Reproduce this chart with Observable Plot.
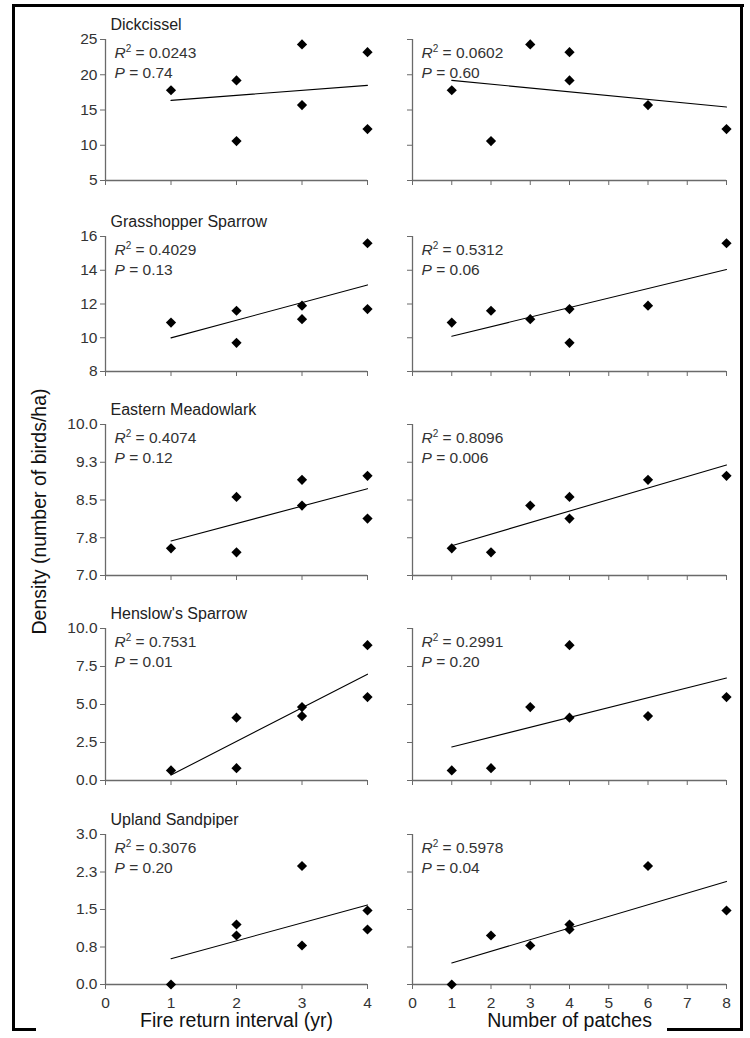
<!DOCTYPE html>
<html>
<head>
<meta charset="utf-8">
<script src="https://cdn.jsdelivr.net/npm/d3@7"></script>
<script src="https://cdn.jsdelivr.net/npm/@observablehq/plot@0.6"></script>
<style>
  body { margin: 0; background: #fff; }
  #fig { position: relative; width: 750px; height: 1038px; background: #fff; overflow: hidden;
         font-family: "Liberation Sans", Arial, sans-serif; }
  #fig svg { position: absolute; }
  .bd { position: absolute; background: #000; z-index: 5; }
</style>
</head>
<body>
<div id="fig"></div>
<script>
// ---------------- data ----------------
const sites = ["A", "B", "C", "D", "E", "F", "G"];
const fireInterval = [1, 2, 3, 4, 2, 3, 4];
const patchCount   = [1, 2, 3, 4, 4, 6, 8];

const dickcissel         = [17.8, 10.6, 24.3, 23.2, 19.2, 15.7, 12.3];
const grasshopperSparrow = [10.9, 11.6, 11.1, 11.7, 9.7, 11.9, 15.6];
const easternMeadowlark  = [7.54, 7.46, 8.39, 8.13, 8.56, 8.90, 8.98];
const henslowsSparrow    = [0.66, 0.81, 4.83, 8.90, 4.13, 4.24, 5.49];
const uplandSandpiper    = [0.00, 0.98, 0.78, 1.10, 1.20, 2.37, 1.48];

const speciesNames = ["Dickcissel", "Grasshopper Sparrow", "Eastern Meadowlark", "Henslow's Sparrow", "Upland Sandpiper"];
const speciesValues = [dickcissel, grasshopperSparrow, easternMeadowlark, henslowsSparrow, uplandSandpiper];

const r2Fire  = ["0.0243", "0.4029", "0.4074", "0.7531", "0.3076"];
const pFire   = ["0.74", "0.13", "0.12", "0.01", "0.20"];
const r2Patch = ["0.0602", "0.5312", "0.8096", "0.2991", "0.5978"];
const pPatch  = ["0.60", "0.06", "0.006", "0.20", "0.04"];

const yTicks = [
  [5, 10, 15, 20, 25],
  [8, 10, 12, 14, 16],
  [7, 7.75, 8.5, 9.25, 10],
  [0, 2.5, 5, 7.5, 10],
  [0, 0.75, 1.5, 2.25, 3]
];
const yTickLabels = [
  ["5", "10", "15", "20", "25"],
  ["8", "10", "12", "14", "16"],
  ["7.0", "7.8", "8.5", "9.3", "10.0"],
  ["0.0", "2.5", "5.0", "7.5", "10.0"],
  ["0.0", "0.8", "1.5", "2.3", "3.0"]
];
const fireTicks  = [0, 1, 2, 3, 4];
const patchTicks = [0, 1, 2, 3, 4, 5, 6, 7, 8];

const xTitles = ["Fire return interval (yr)", "Number of patches"];
const yTitle = "Density (number of birds/ha)";

// ---------------- layout ----------------
const rowTop    = [39, 236, 424, 628, 834];
const rowBottom = [180, 371, 575, 780, 984];
const colLeft   = [105, 412];
const colRight  = [367, 726];
const svgLeft   = [18, 385];
const svgRight  = [380, 742];
const FIG_H = 1038;

const axisColor = "#6a6a6a";
const labelColor = "#333";
const font = "Liberation Sans, Arial, Helvetica, sans-serif";

const fig = document.getElementById("fig");

function panel(row, col) {
  const vals = speciesValues[row];
  const xs = col === 0 ? fireInterval : patchCount;
  const data = sites.map((s, i) => ({site: s, x: xs[i], y: vals[i]}));
  const ticks = yTicks[row];
  const ymin = ticks[0], ymax = ticks[ticks.length - 1];
  const xt = col === 0 ? fireTicks : patchTicks;
  const xmax = xt[xt.length - 1];
  const last = row === 4;
  const mt = 38;
  const mb = last ? FIG_H - rowBottom[row] : 14;
  const ml = colLeft[col] - svgLeft[col];
  const mr = svgRight[col] - colRight[col];
  const width = svgRight[col] - svgLeft[col];
  const height = rowBottom[row] - rowTop[row] + mt + mb;
  const labelMap = new Map(ticks.map((t, i) => [t, yTickLabels[row][i]]));
  const r2 = col === 0 ? r2Fire[row] : r2Patch[row];
  const p = col === 0 ? pFire[row] : pPatch[row];

  const marks = [
    Plot.ruleX([0], {y1: ymin, y2: ymax, stroke: axisColor, strokeWidth: 1.3}),
    Plot.ruleY([ymin], {x1: 0, x2: xmax, stroke: axisColor, strokeWidth: 1.3}),
    Plot.axisY(ticks, {
      anchor: "left", tickSize: 5, tickPadding: 3, label: null,
      tickFormat: col === 0 ? (d) => labelMap.get(d) : () => "",
      fontSize: 15.5, stroke: axisColor, fill: labelColor
    }),
    Plot.axisX(xt, {
      anchor: "bottom", tickSize: 5, tickPadding: 7, label: null,
      tickFormat: last ? (d) => String(d) : () => "",
      fontSize: 15.5, stroke: axisColor, fill: labelColor
    }),
    Plot.linearRegressionY(data, {x: "x", y: "y", stroke: "#000", strokeWidth: 1.1, ci: 0}),
    Plot.dot(data, {x: "x", y: "y", symbol: "diamond2", r: 4.6, fill: "#000", stroke: "none"}),
    Plot.text(["R2 = " + r2], {frameAnchor: "top-left", dx: 9, dy: 14, textAnchor: "start", lineAnchor: "middle", fontSize: 15.5, fill: labelColor}),
    Plot.text(["P = " + p], {frameAnchor: "top-left", dx: 9, dy: 34, textAnchor: "start", lineAnchor: "middle", fontSize: 15.5, fill: labelColor})
  ];
  if (col === 0) {
    marks.push(Plot.text([speciesNames[row]], {frameAnchor: "top-left", dx: 5, dy: -15, textAnchor: "start", lineAnchor: "middle", fontSize: 16, fill: "#222"}));
  }
  if (col === 0 && row === 2) {
    const midY = (rowTop[row] + rowBottom[row]) / 2;
    marks.push(Plot.text([yTitle], {frameAnchor: "left", rotate: -90, dx: 39 - colLeft[0], dy: 511 - midY, textAnchor: "middle", lineAnchor: "middle", fontSize: 19.5, fill: "#111"}));
  }
  if (last) {
    marks.push(Plot.text([xTitles[col]], {frameAnchor: "bottom", dy: 1020 - rowBottom[row], textAnchor: "middle", lineAnchor: "middle", fontSize: 19.5, fill: "#111"}));
  }

  const svg = Plot.plot({
    width, height,
    marginTop: mt, marginBottom: mb, marginLeft: ml, marginRight: mr,
    x: {domain: [0, xmax], label: null},
    y: {domain: [ymin, ymax], label: null},
    style: {fontFamily: font, background: "transparent", overflow: "visible"},
    marks
  });

  // italic R with superscript 2, italic P
  d3.select(svg).selectAll("text").each(function () {
    const t = this.textContent;
    const sel = d3.select(this);
    if (t.startsWith("R2 = ")) {
      sel.text(null);
      sel.append("tspan").attr("font-style", "italic").text("R");
      sel.append("tspan").attr("font-size", "10px").attr("dy", "-6").text("2");
      sel.append("tspan").attr("dy", "6").text(" = " + t.slice(5));
    } else if (t.startsWith("P = ")) {
      sel.text(null);
      sel.append("tspan").attr("font-style", "italic").text("P");
      sel.append("tspan").text(" = " + t.slice(4));
    }
  });

  svg.style.position = "absolute";
  svg.style.left = svgLeft[col] + "px";
  svg.style.top = (rowTop[row] - mt) + "px";
  fig.appendChild(svg);
}

for (let r = 0; r < 5; r++) for (let c = 0; c < 2; c++) panel(r, c);

// frame lines of the figure
const borders = [
  {l: 12, t: 4, w: 732, h: 3},
  {l: 12, t: 4, w: 3, h: 1027},
  {l: 740, t: 4, w: 3, h: 1027},
  {l: 12, t: 1028, w: 24, h: 3},
  {l: 667, t: 1028, w: 76, h: 3}
];
for (const b of borders) {
  const d = document.createElement("div");
  d.className = "bd";
  d.style.left = b.l + "px"; d.style.top = b.t + "px";
  d.style.width = b.w + "px"; d.style.height = b.h + "px";
  fig.appendChild(d);
}
</script>
</body>
</html>
